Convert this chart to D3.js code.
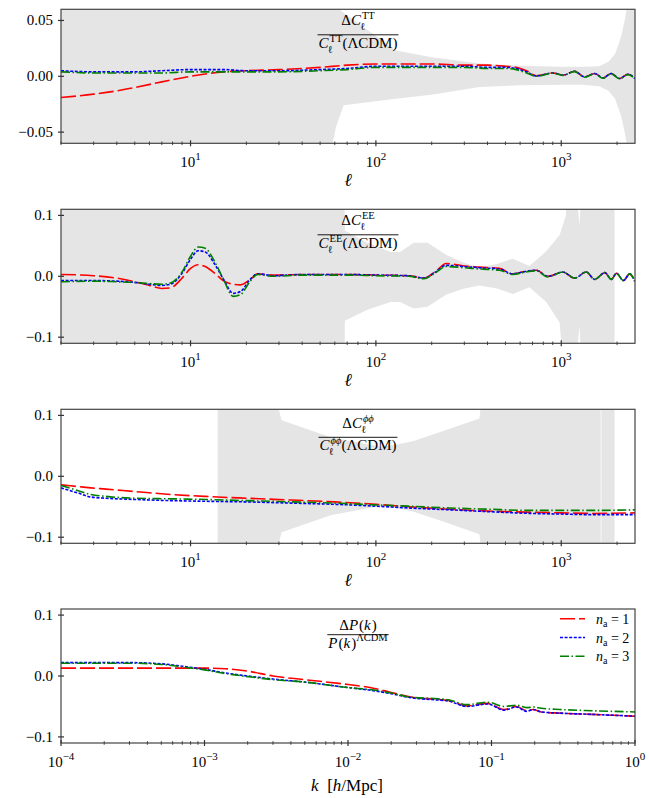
<!DOCTYPE html>
<html>
<head>
<meta charset="utf-8">
<script src="https://cdn.jsdelivr.net/npm/d3@7"></script>
<style>
  body { margin: 0; background: #fff; }
  text { font-family: "Liberation Serif", "Times New Roman", serif; fill: #000; }
</style>
</head>
<body>
<svg id="chart" width="649" height="798" font-family="Liberation Serif, serif"></svg>
<script>
// ---- data ----

// TT panel
const ellTT = [2, 3, 4, 5, 7, 10, 15, 20, 30, 50, 70, 100, 150, 200, 300, 400, 500, 571, 650, 733, 902, 1021, 1181, 1337, 1514, 1680, 1863, 2065, 2290, 2500];
const ttNa1 = [-0.019, -0.016, -0.013, -0.010, -0.005, 0.000, 0.004, 0.005, 0.006, 0.008, 0.010, 0.011, 0.011, 0.011, 0.010, 0.010, 0.009, 0.008, 0.005, 0.0005, 0.003, 0.001, 0.0045, -0.0005, 0.0025, -0.0015, 0.0025, -0.002, 0.0018, -0.002];
const ttNa2 = [0.005, 0.004, 0.004, 0.004, 0.005, 0.006, 0.006, 0.005, 0.005, 0.006, 0.007, 0.009, 0.009, 0.009, 0.009, 0.008, 0.008, 0.007, 0.004, 0.0003, 0.003, 0.001, 0.0045, -0.0005, 0.0025, -0.0015, 0.0025, -0.002, 0.0018, -0.002];
const ttNa3 = [0.004, 0.003, 0.003, 0.003, 0.003, 0.004, 0.004, 0.004, 0.004, 0.005, 0.006, 0.008, 0.008, 0.008, 0.008, 0.007, 0.007, 0.006, 0.003, 0.0, 0.0028, 0.0008, 0.0042, -0.0008, 0.0022, -0.0018, 0.0022, -0.0022, 0.0015, -0.0022];
const bandEllTT = [2, 57, 58, 61, 67, 128, 200, 362, 600, 1000, 1300, 1600, 1800, 1950, 2100, 2200, 2280, 2300, 2500];
const bandHiTT = [0.2, 0.2, 0.2, 0.062, 0.057, 0.023, 0.017, 0.0115, 0.0095, 0.0085, 0.0085, 0.009, 0.013, 0.02, 0.035, 0.05, 0.065, 0.2, 0.2];
const bandLoTT = [-0.2, -0.2, -0.062, -0.045, -0.026, -0.02, -0.0165, -0.0096, -0.008, -0.0075, -0.0075, -0.009, -0.013, -0.02, -0.035, -0.05, -0.065, -0.2, -0.2];

// EE panel
const ellEE = [2, 3, 4, 5, 6, 7, 7.8, 9, 10, 11, 12, 13.5, 15, 17, 18.6, 21, 23, 28, 40, 70, 100, 150, 182, 210, 239, 300, 362, 464, 547, 640, 733, 847, 1020, 1180, 1365, 1514, 1720, 1863, 1985, 2165, 2340, 2490];
const eeNa1 = [0.003, 0.001, -0.003, -0.009, -0.015, -0.020, -0.019, -0.003, 0.013, 0.019, 0.016, 0.005, -0.007, -0.013, -0.014, -0.005, 0.004, 0.002, 0.003, 0.003, 0.002, 0.001, -0.003, 0.008, 0.021, 0.017, 0.015, 0.013, 0.004, 0.008, 0.010, 0.000, 0.007, -0.003, 0.007, -0.005, 0.006, -0.005, 0.005, -0.007, 0.004, -0.008];
const eeNa2 = [-0.007, -0.007, -0.008, -0.010, -0.013, -0.015, -0.013, 0.005, 0.028, 0.042, 0.040, 0.020, -0.004, -0.028, -0.025, -0.005, 0.004, 0.001, 0.003, 0.003, 0.002, 0.001, -0.003, 0.007, 0.018, 0.016, 0.014, 0.012, 0.004, 0.008, 0.010, 0.000, 0.007, -0.003, 0.007, -0.005, 0.006, -0.005, 0.005, -0.007, 0.004, -0.008];
const eeNa3 = [-0.009, -0.008, -0.009, -0.010, -0.012, -0.013, -0.011, 0.007, 0.033, 0.048, 0.046, 0.024, -0.004, -0.033, -0.030, -0.008, 0.003, 0.000, 0.002, 0.002, 0.001, 0.000, -0.004, 0.006, 0.016, 0.014, 0.012, 0.010, 0.003, 0.007, 0.009, -0.001, 0.007, -0.003, 0.007, -0.005, 0.006, -0.005, 0.005, -0.007, 0.004, -0.008];
const bandEllEE = [2, 67.5, 68, 90, 120, 135, 160, 190, 240, 300, 362, 450, 547, 674, 830, 980, 1060, 1080, 1150, 1256, 1300, 1940];
const bandHiEE = [0.2, 0.2, 0.075, 0.055, 0.04, 0.04, 0.055, 0.055, 0.035, 0.022, 0.015, 0.02, 0.029, 0.017, 0.041, 0.068, 0.1, 0.2, 0.2, 0.084, 0.2, 0.2];
const bandLoEE = [-0.2, -0.2, -0.073, -0.055, -0.042, -0.042, -0.053, -0.05, -0.03, -0.02, -0.015, -0.02, -0.029, -0.018, -0.042, -0.076, -0.2, -0.2, -0.2, -0.081, -0.2, -0.2];

// phi-phi panel
const ellPP = [2, 2.5, 2.9, 3.5, 5, 8, 12, 20, 35, 60, 100, 150, 250, 400, 700, 1000, 1500, 2500];
const ppNa1 = [-0.014, -0.017, -0.019, -0.021, -0.025, -0.030, -0.033, -0.036, -0.039, -0.042, -0.046, -0.050, -0.054, -0.057, -0.059, -0.060, -0.061, -0.060];
const ppNa2 = [-0.019, -0.028, -0.034, -0.036, -0.038, -0.040, -0.041, -0.042, -0.044, -0.046, -0.049, -0.052, -0.055, -0.058, -0.061, -0.062, -0.063, -0.063];
const ppNa3 = [-0.015, -0.024, -0.030, -0.033, -0.036, -0.037, -0.038, -0.040, -0.042, -0.044, -0.047, -0.049, -0.052, -0.054, -0.056, -0.056, -0.056, -0.055];
const bandEllPP = [14, 25, 31, 57, 104, 128, 160, 239, 362, 393, 1633, 1640, 1647, 1940];
const bandHiPP = [0.2, 0.2, 0.092, 0.064, 0.049, 0.052, 0.058, 0.076, 0.095, 0.2, 0.2, null, 0.2, 0.2];
const bandLoPP = [-0.2, -0.2, -0.092, -0.064, -0.049, -0.052, -0.058, -0.076, -0.095, -0.2, -0.2, null, -0.2, -0.2];

// matter power spectrum panel
const kVals = [1e-4, 3e-4, 5e-4, 7e-4, 1e-3, 1.4e-3, 2e-3, 3e-3, 5e-3, 1e-2, 1.5e-2, 2e-2, 2.8e-2, 4e-2, 5e-2, 6.7e-2, 9.4e-2, 0.122, 0.149, 0.176, 0.195, 0.222, 0.3, 0.5, 1.0];
const pkNa1 = [0.013, 0.013, 0.013, 0.013, 0.013, 0.012, 0.008, 0.000, -0.006, -0.014, -0.020, -0.027, -0.035, -0.038, -0.040, -0.049, -0.045, -0.055, -0.050, -0.057, -0.055, -0.059, -0.061, -0.063, -0.066];
const pkNa2 = [0.022, 0.022, 0.020, 0.016, 0.011, 0.005, 0.000, -0.005, -0.010, -0.019, -0.024, -0.029, -0.036, -0.039, -0.041, -0.050, -0.046, -0.056, -0.051, -0.058, -0.055, -0.059, -0.061, -0.063, -0.066];
const pkNa3 = [0.021, 0.021, 0.019, 0.015, 0.010, 0.004, -0.001, -0.006, -0.010, -0.019, -0.023, -0.028, -0.035, -0.037, -0.039, -0.047, -0.043, -0.050, -0.048, -0.052, -0.051, -0.053, -0.055, -0.057, -0.059];

// tick labels
const ellMajor = [10, 100, 1000];
const ellExp = ["1", "2", "3"];
const kMajor = [1e-4, 1e-3, 1e-2, 1e-1, 1];
const kExp = ["\u22124", "\u22123", "\u22122", "\u22121", "0"];
const yTicksTT = [0.05, 0, -0.05];
const yLabelsTT = ["0.05", "0.00", "\u22120.05"];
const yTicks = [0.1, 0, -0.1];
const yLabels = ["0.1", "0.0", "\u22120.1"];
const legendLabels = ["1", "2", "3"];

// ---- layout ----
const svg = d3.select("#chart");
const left = 61, right = 635, panelH = 134;
const tops = [9.3, 209.3, 409.3, 609];

const styles = [
  { color: "#ff0000", dash: "15,4" },
  { color: "#0000ff", dash: "3,1.6" },
  { color: "#008000", dash: "9,2.5,1.5,2.5" }
];

function minorTicks(lo, hi) {
  const out = [];
  for (let e = Math.floor(Math.log10(lo)); e <= Math.ceil(Math.log10(hi)); e++) {
    for (let m = 2; m <= 9; m++) {
      const v = m * Math.pow(10, e);
      if (v >= lo * 0.999 && v <= hi * 1.001) out.push(v);
    }
  }
  return out;
}

// math-like row of text: parts [{t, it, sup, sub}]
function mathRow(g, parts, y, size) {
  const row = g.append("g");
  let x = 0;
  parts.forEach(p => {
    if (p.t) {
      const el = row.append("text").attr("x", x).attr("y", y)
        .attr("font-size", size).attr("font-style", p.it ? "italic" : "normal").text(p.t);
      x += el.node().getComputedTextLength() + (p.it ? 1 : 0);
    }
    let w = 0;
    if (p.sup) {
      const s = row.append("text").attr("x", x).attr("y", y - size * 0.42)
        .attr("font-size", size * 0.7).attr("font-style", p.supIt ? "italic" : "normal").text(p.sup);
      w = Math.max(w, s.node().getComputedTextLength());
    }
    if (p.sub) {
      const s = row.append("text").attr("x", x - (p.it ? 2 : 0)).attr("y", y + size * 0.32)
        .attr("font-size", size * 0.7).attr("font-style", p.subIt ? "italic" : "normal").text(p.sub);
      w = Math.max(w, s.node().getComputedTextLength() - (p.it ? 2 : 0));
    }
    x += w;
  });
  return { row, width: x };
}

function fraction(g, cx, yNum, yBar, yDen, num, den, size) {
  const n = mathRow(g, num, yNum, size);
  const d = mathRow(g, den, yDen, size);
  const w = Math.max(n.width, d.width) + 2;
  n.row.attr("transform", `translate(${cx - n.width / 2},0)`);
  d.row.attr("transform", `translate(${cx - d.width / 2},0)`);
  g.append("line").attr("x1", cx - w / 2).attr("x2", cx + w / 2)
    .attr("y1", yBar).attr("y2", yBar).attr("stroke", "#000").attr("stroke-width", 0.9);
}

function drawPanel(i, cfg) {
  const top = tops[i], bottom = top + panelH;
  const x = d3.scaleLog().domain(cfg.xDomain).range([left, right]);
  const y = d3.scaleLinear().domain(cfg.yDomain).range([bottom, top]);
  const g = svg.append("g");

  const clipId = "clip" + i;
  svg.append("clipPath").attr("id", clipId).append("rect")
    .attr("x", left).attr("y", top).attr("width", right - left).attr("height", panelH);

  const plot = g.append("g").attr("clip-path", `url(#${clipId})`);

  // error band
  if (cfg.band) {
    const bd = cfg.band.ell.map((e, j) => ({ e, lo: cfg.band.lo[j], hi: cfg.band.hi[j] }));
    const area = d3.area()
      .defined(d => d.hi !== null)
      .x(d => x(d.e)).y0(d => y(d.lo)).y1(d => y(d.hi));
    plot.append("path").datum(bd).attr("d", area).attr("fill", "#e5e5e5");
  }

  // curves
  cfg.series.forEach((vals, s) => {
    const data = cfg.xs.map((e, j) => ({ e, v: vals[j] }));
    const line = d3.line().x(d => x(d.e)).y(d => y(d.v)).curve(d3.curveMonotoneX);
    plot.append("path").datum(data).attr("d", line)
      .attr("fill", "none").attr("stroke", styles[s].color)
      .attr("stroke-width", 1.6).attr("stroke-dasharray", styles[s].dash);
  });

  // frame
  g.append("rect").attr("x", left).attr("y", top).attr("width", right - left).attr("height", panelH)
    .attr("fill", "none").attr("stroke", "#444").attr("stroke-width", 1.2);

  // x ticks (in-out)
  g.selectAll(null).data(minorTicks(cfg.xDomain[0], cfg.xDomain[1])).join("line")
    .attr("x1", d => x(d)).attr("x2", d => x(d))
    .attr("y1", bottom - 1.8).attr("y2", bottom + 1.8)
    .attr("stroke", "#333").attr("stroke-width", 0.9);
  g.selectAll(null).data(cfg.xMajor).join("line")
    .attr("x1", d => x(d)).attr("x2", d => x(d))
    .attr("y1", bottom - 3).attr("y2", bottom + 3)
    .attr("stroke", "#333").attr("stroke-width", 1.2);
  cfg.xMajor.forEach((v, j) => {
    const t = g.append("text").attr("x", x(v)).attr("y", bottom + 24)
      .attr("text-anchor", "middle").attr("font-size", 15);
    t.append("tspan").text("10");
    t.append("tspan").attr("dy", -7).attr("font-size", 11).text(cfg.xExp[j]);
  });

  // y ticks
  g.selectAll(null).data(cfg.yTicks).join("line")
    .attr("x1", left - 3).attr("x2", left + 3)
    .attr("y1", d => y(d)).attr("y2", d => y(d))
    .attr("stroke", "#333").attr("stroke-width", 1.2);
  g.selectAll(null).data(cfg.yTicks).join("text")
    .attr("x", left - 8).attr("y", d => y(d) + 5)
    .attr("text-anchor", "end").attr("font-size", 15)
    .text((d, j) => cfg.yLabels[j]);

  return { g, x, y, top, bottom };
}

const ellDomain = [2, 2500];
const panelCfgs = [
  { xDomain: ellDomain, yDomain: [-0.06, 0.06], xs: ellTT, series: [ttNa1, ttNa2, ttNa3],
    band: { ell: bandEllTT, lo: bandLoTT, hi: bandHiTT },
    xMajor: ellMajor, xExp: ellExp, yTicks: yTicksTT, yLabels: yLabelsTT },
  { xDomain: ellDomain, yDomain: [-0.11, 0.11], xs: ellEE, series: [eeNa1, eeNa2, eeNa3],
    band: { ell: bandEllEE, lo: bandLoEE, hi: bandHiEE },
    xMajor: ellMajor, xExp: ellExp, yTicks: yTicks, yLabels: yLabels },
  { xDomain: ellDomain, yDomain: [-0.11, 0.11], xs: ellPP, series: [ppNa1, ppNa2, ppNa3],
    band: { ell: bandEllPP, lo: bandLoPP, hi: bandHiPP },
    xMajor: ellMajor, xExp: ellExp, yTicks: yTicks, yLabels: yLabels },
  { xDomain: [1e-4, 1], yDomain: [-0.11, 0.11], xs: kVals, series: [pkNa1, pkNa2, pkNa3],
    band: null, xMajor: kMajor, xExp: kExp, yTicks: yTicks, yLabels: yLabels }
];

const drawn = panelCfgs.map((c, i) => drawPanel(i, c));

// titles
const cx = 358, ts = 15;
const specs = ["TT", "EE", "\u03d5\u03d5"];
specs.forEach((sp, i) => {
  const t = drawn[i].top;
  const off = i === 2 ? 2.5 : 0;
  fraction(drawn[i].g, cx, t + 16 + off, t + 25.5 + off, t + 38.5 + off,
    [{ t: "\u0394" }, { t: "C", it: true, sup: sp, sub: "\u2113", supIt: i === 2 }],
    [{ t: "C", it: true, sup: sp, sub: "\u2113", supIt: i === 2 }, { t: "(\u039bCDM)" }], ts);
});
{
  const t = drawn[3].top;
  fraction(drawn[3].g, cx, t + 20.5, t + 25.7, t + 38.5,
    [{ t: "\u0394" }, { t: "P", it: true }, { t: "(" }, { t: "k", it: true }, { t: ")" }],
    [{ t: "P", it: true }, { t: "(" }, { t: "k", it: true }, { t: ")", sup: "\u039bCDM" }], ts);
}

// x labels
for (let i = 0; i < 3; i++) {
  drawn[i].g.append("text").attr("x", (left + right) / 2).attr("y", drawn[i].bottom + 43)
    .attr("text-anchor", "middle").attr("font-size", 18).attr("font-style", "italic").text("\u2113");
}
{
  const xl = drawn[3].g.append("text").attr("x", (left + right) / 2 - 1).attr("y", drawn[3].bottom + 48)
    .attr("text-anchor", "middle").attr("font-size", 17);
  xl.append("tspan").attr("font-style", "italic").text("k");
  xl.append("tspan").text("\u2002[");
  xl.append("tspan").attr("font-style", "italic").text("h");
  xl.append("tspan").text("/Mpc]");
}

// legend
const lg = drawn[3].g.append("g");
legendLabels.forEach((lab, s) => {
  const ly = 618.7 + s * 18.8;
  lg.append("line").attr("x1", 560).attr("x2", 585).attr("y1", ly).attr("y2", ly)
    .attr("stroke", styles[s].color).attr("stroke-width", 1.6).attr("stroke-dasharray", styles[s].dash);
  const tx = lg.append("text").attr("x", 596).attr("y", ly + 5).attr("font-size", 14);
  tx.append("tspan").attr("font-style", "italic").text("n");
  tx.append("tspan").attr("dy", 3).attr("font-size", 10).text("a");
  tx.append("tspan").attr("dy", -3).text(" = " + lab);
});
</script>
</body>
</html>
